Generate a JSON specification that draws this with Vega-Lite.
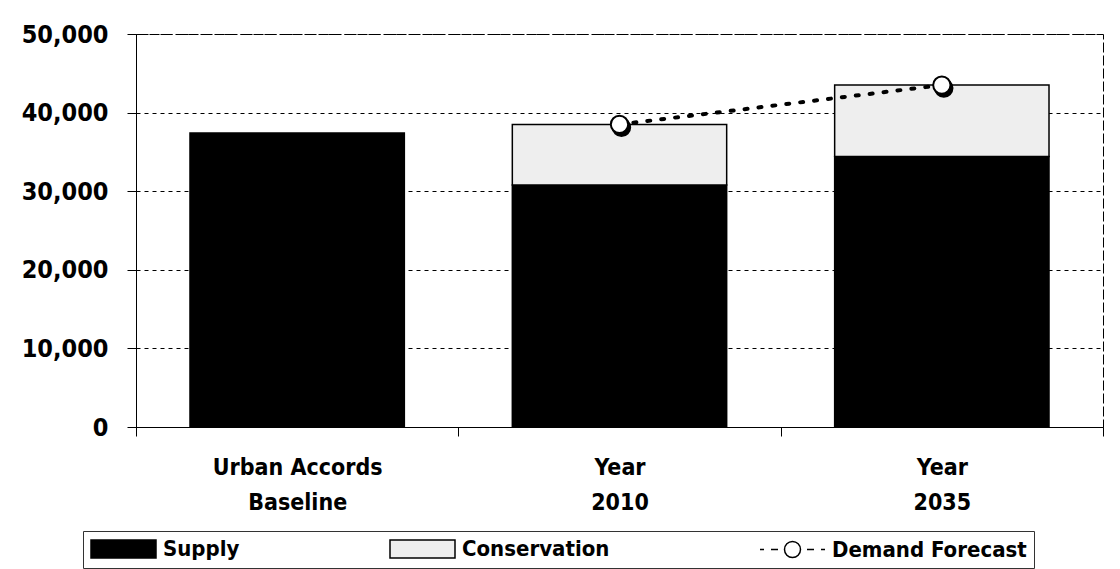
{
  "$schema": "https://vega.github.io/schema/vega-lite/v6.json",
  "width": 967,
  "height": 393,
  "autosize": {"type": "none"},
  "padding": {"left": 136, "top": 34, "right": 17, "bottom": 142},
  "background": "white",
  "config": {
    "font": "'DejaVu Sans Condensed', 'Liberation Sans', sans-serif",
    "view": {"stroke": "black", "strokeDash": [10, 3], "strokeWidth": 1}
  },
  "datasets": {
    "supply": [
      {"cat": "Baseline", "series": "Supply", "value": 37400},
      {"cat": "2010", "series": "Supply", "value": 30800},
      {"cat": "2010", "series": "Conservation", "value": 7700},
      {"cat": "2035", "series": "Supply", "value": 34400},
      {"cat": "2035", "series": "Conservation", "value": 9100}
    ],
    "demand": [
      {"cat": "2010", "series": "Demand Forecast", "value": 38500},
      {"cat": "2035", "series": "Demand Forecast", "value": 43500}
    ]
  },
  "encoding": {
    "x": {
      "field": "cat",
      "type": "nominal",
      "sort": ["Baseline", "2010", "2035"],
      "scale": {"paddingInner": 0, "paddingOuter": 0},
      "axis": {
        "title": null,
        "labelAngle": 0,
        "tickBand": "extent",
        "labelExpr": "datum.value == 'Baseline' ? ['Urban Accords', 'Baseline'] : (datum.value == '2010' || datum.value == '2035') ? ['Year', datum.value] : ''",
        "labelFontSize": 23,
        "labelFontWeight": "bold",
        "labelColor": "black",
        "labelLineHeight": 35,
        "labelBaseline": "top",
        "labelPadding": 20,
        "tickSize": 9,
        "tickColor": "black",
        "domainColor": "black",
        "grid": false
      }
    },
    "y": {
      "field": "value",
      "type": "quantitative",
      "scale": {"domain": [0, 50000], "nice": false},
      "axis": {
        "title": null,
        "values": [0, 10000, 20000, 30000, 40000, 50000],
        "format": ",d",
        "labelFontSize": 25,
        "labelFontWeight": "bold",
        "labelColor": "black",
        "labelPadding": 19,
        "tickSize": 9,
        "tickColor": "black",
        "domainColor": "black",
        "grid": true,
        "gridColor": "black",
        "gridDash": [4, 4],
        "gridWidth": 1
      }
    }
  },
  "layer": [
    {
      "data": {"name": "supply"},
      "mark": {"type": "bar", "width": {"band": 0.665}, "stroke": "black", "strokeWidth": 1.5},
      "encoding": {
        "y": {"field": "value", "type": "quantitative", "stack": "zero"},
        "fill": {
          "field": "series",
          "type": "nominal",
          "scale": {
            "domain": ["Supply", "Conservation", "Demand Forecast"],
            "range": ["black", "#eeeeee", "white"]
          },
          "legend": {
            "title": null,
            "orient": "none",
            "direction": "horizontal",
            "legendX": -53,
            "legendY": 497,
            "padding": 7,
            "strokeColor": "#333333",
            "symbolSize": 400,
            "labelOffset": 51,
            "labelFontSize": 22,
            "labelFontWeight": "bold",
            "labelColor": "black",
            "labelLimit": 400,
            "columnPadding": 147,
            "encode": {
              "symbols": {
                "update": {
                  "stroke": {"value": "black"},
                  "strokeWidth": {"value": 2},
                  "opacity": {"value": 1}
                }
              }
            }
          }
        },
        "order": {"field": "series", "sort": "descending"}
      }
    },
    {
      "data": {"name": "supply"},
      "mark": {"type": "point", "filled": true, "opacity": 0},
      "encoding": {
        "fill": {"field": "series", "type": "nominal"},
        "shape": {
          "field": "series",
          "type": "nominal",
          "scale": {
            "domain": ["Supply", "Conservation", "Demand Forecast"],
            "range": [
              "M-1,-0.9H5.5V0.9H-1Z",
              "M-1,-0.9H5.5V0.9H-1Z",
              "M-1,0H-0.6M0.1,0H0.8M3.7,0H4.4M5.1,0H5.5M3.05,0A0.8,0.8 0 1,1 1.45,0A0.8,0.8 0 1,1 3.05,0Z"
            ]
          }
        }
      }
    },
    {
      "data": {"name": "demand"},
      "mark": {"type": "line", "stroke": "black", "strokeWidth": 4, "strokeDash": [3, 11], "strokeCap": "round"},
      "encoding": {}
    },
    {
      "data": {"name": "demand"},
      "mark": {"type": "point", "filled": true, "fill": "black", "stroke": "black", "size": 300, "xOffset": 2, "yOffset": 3, "opacity": 1},
      "encoding": {}
    },
    {
      "data": {"name": "demand"},
      "mark": {"type": "point", "filled": true, "fill": "white", "stroke": "black", "strokeWidth": 2, "size": 300, "opacity": 1},
      "encoding": {}
    }
  ]
}
